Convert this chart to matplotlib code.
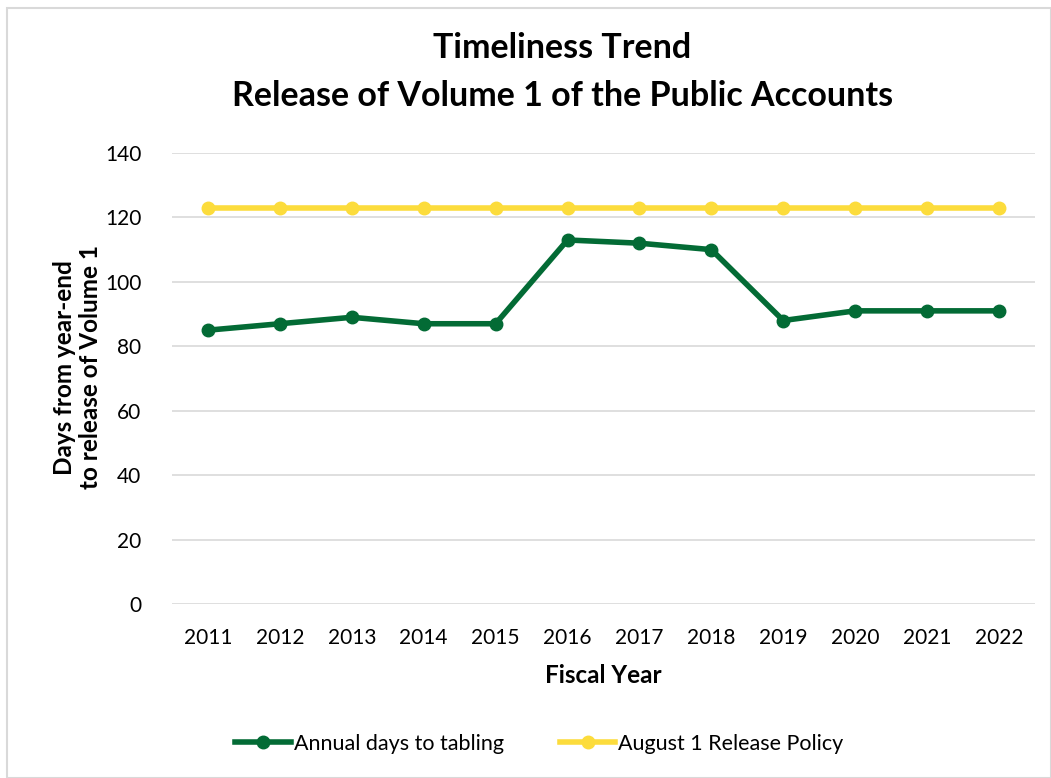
import matplotlib.pyplot as plt
from matplotlib.patches import Rectangle

years = ['2011', '2012', '2013', '2014', '2015', '2016',
         '2017', '2018', '2019', '2020', '2021', '2022']
annual_days = [85, 87, 89, 87, 87, 113, 112, 110, 88, 91, 91, 91]
policy_days = [123] * 12

plt.rcParams['font.family'] = ['Lato', 'DejaVu Sans']

fig = plt.figure(figsize=(10.51, 7.78), dpi=100)
ax = fig.add_axes([172 / 1051, 1 - 604 / 778, 863 / 1051, 451 / 778])

x = range(len(years))
ax.plot(x, annual_days, color='#036b35', lw=4, marker='o', ms=9,
        label='Annual days to tabling', zorder=3)
ax.plot(x, policy_days, color='#fcdc3c', lw=4, marker='o', ms=9,
        label='August 1 Release Policy', zorder=3)

ax.set_xlim(-0.5, len(years) - 0.5)
ax.set_ylim(0, 140)
ax.set_yticks(range(0, 141, 20))
ax.set_xticks(list(x))
ax.set_xticklabels(years)
ax.tick_params(length=0, labelsize=15, colors='black', pad=17)
ax.tick_params(axis='y', pad=22)
ax.grid(axis='y', color='#d9d9d9', lw=1.2)
ax.set_axisbelow(True)
for s in ax.spines.values():
    s.set_visible(False)

ax.set_xlabel('Fiscal Year', fontsize=17.5, fontweight='bold', labelpad=12)
ax.set_ylabel('Days from year-end\nto release of Volume 1', fontsize=17.5,
              fontweight='bold', labelpad=2, linespacing=1.15)
ax.yaxis.label.set_y(0.525)

fig.text(0.535, 1 - 48 / 778, 'Timeliness Trend', ha='center', va='center',
         fontsize=24.5, fontweight='bold')
fig.text(0.535, 1 - 96 / 778, 'Release of Volume 1 of the Public Accounts',
         ha='center', va='center', fontsize=24.5, fontweight='bold')

fig.legend(loc='center', bbox_to_anchor=(0.513, 1 - 744 / 778), ncol=2,
           frameon=False, fontsize=15.5, handlelength=2.6, handletextpad=0.1,
           columnspacing=2.6)

fig.patches.append(Rectangle((7 / 1051, 0), 1 - 7 / 1051, 1 - 8 / 778,
                             transform=fig.transFigure, fill=False,
                             edgecolor='#d9d9d9', lw=1.5))

fig.savefig('out.png', dpi=100)
